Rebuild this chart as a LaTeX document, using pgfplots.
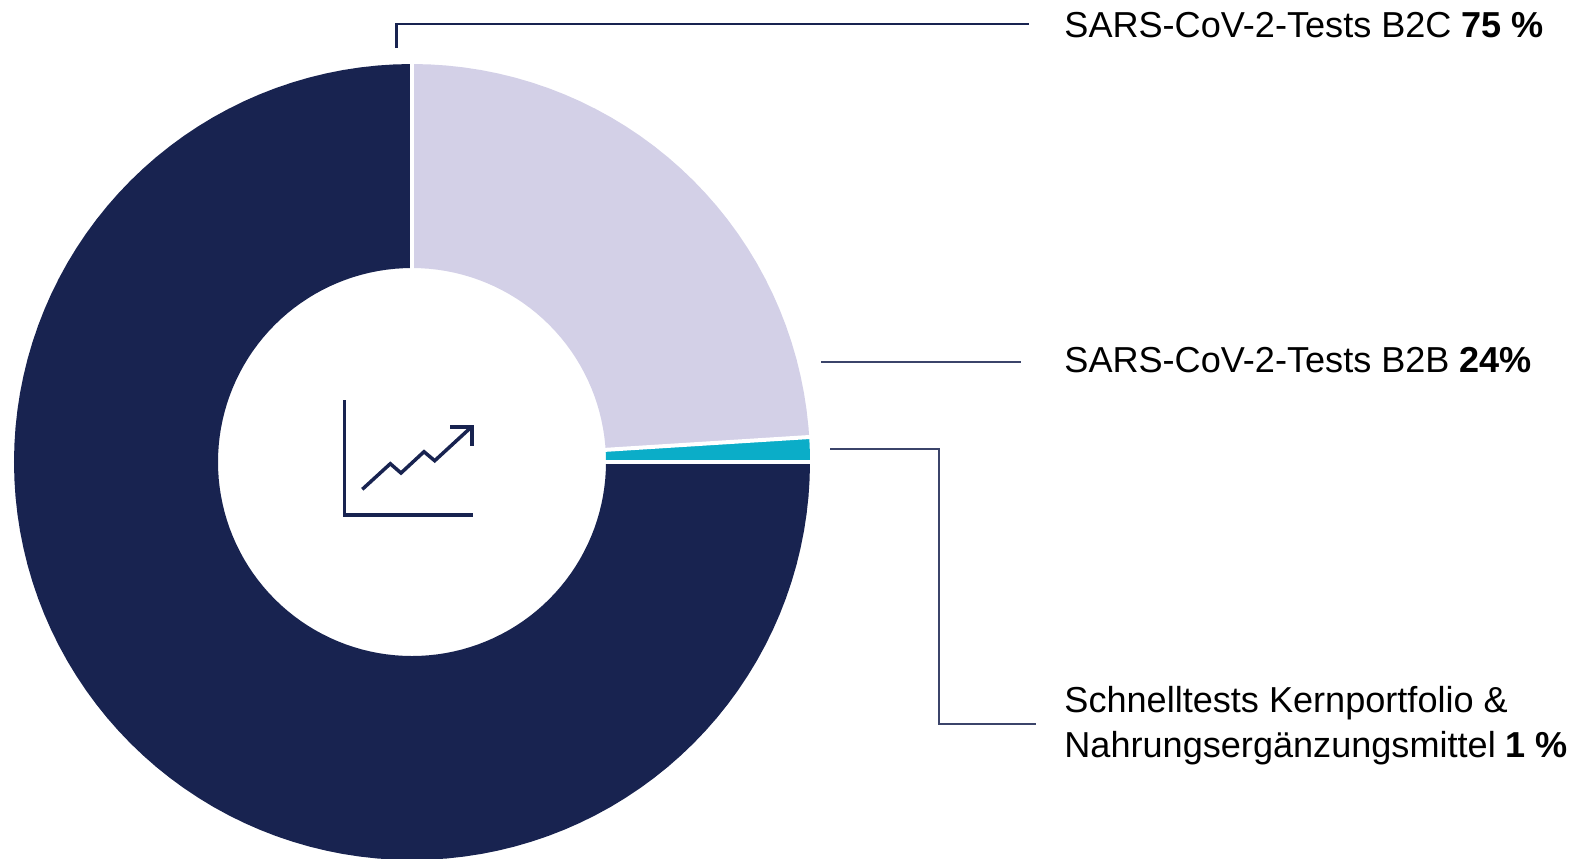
\documentclass[border=0pt]{standalone}
\usepackage{fontspec}
\setmainfont{Liberation Sans}
\usepackage{pgfplots}
\pgfplotsset{compat=1.18}
\usepgfplotslibrary{polar}
\definecolor{navy}{HTML}{182350}
\definecolor{lilac}{HTML}{D3D0E7}
\definecolor{teal2}{HTML}{0BADC8}
\begin{document}
\begin{tikzpicture}
\path[use as bounding box] (0,0) rectangle (786pt,-429pt);
\begin{axis}[at={(0,0)},anchor=north west,scale only axis,width=786pt,height=429pt,
  xmin=0,xmax=1572,ymin=0,ymax=858,y dir=reverse,hide axis,clip=false]
% leader lines
\addplot[navy,line width=1.25pt,line join=miter,no marks] coordinates {(396.5,48) (396.5,24) (1029,24)};
\addplot[navy!85,line width=0.6pt,no marks] coordinates {(821,362) (1021,362)};
\addplot[navy!85,line width=0.6pt,line join=miter,no marks] coordinates {(830,449) (939,449) (939,724) (1036,724)};
% icon
\addplot[navy,line width=1.75pt,line join=miter,no marks] coordinates {(344.7,400) (344.7,515) (473,515)};
\addplot[navy,line width=1.75pt,line join=miter,no marks] coordinates {(362.3,489.3) (390.3,463.7) (401,473) (424,451.7) (434.7,460.7) (471.7,426.7)};
\addplot[navy,line width=1.75pt,line join=miter,no marks] coordinates {(450,427) (472,427) (472,446)};
\node[anchor=base west,inner sep=0pt,font=\fontsize{18.05pt}{21pt}\selectfont] at (axis cs:1064,37) {SARS-CoV-2-Tests B2C \textbf{75 \%}};
\node[anchor=base west,inner sep=0pt,font=\fontsize{18.05pt}{21pt}\selectfont] at (axis cs:1064,372) {SARS-CoV-2-Tests B2B \textbf{24\%}};
\node[anchor=base west,inner sep=0pt,font=\fontsize{18.05pt}{21pt}\selectfont] at (axis cs:1064,712) {Schnelltests Kernportfolio \&};
\node[anchor=base west,inner sep=0pt,font=\fontsize{18.05pt}{21pt}\selectfont] at (axis cs:1064,757) {Nahrungsergänzungsmittel \textbf{1 \%}};
\end{axis}
\begin{polaraxis}[at={(206pt,-231pt)},anchor=center,scale only axis,width=400pt,height=400pt,
  xmin=0,xmax=360,ymin=0,ymax=400,hide axis,clip=false]
\addplot[fill=navy,draw=none,no marks] coordinates {
(90,398)(92.5,398)(95,398)(97.5,398)(100,398)(102.5,398)(105,398)(107.5,398)(110,398)(112.5,398)(115,398)(117.5,398)
(120,398)(122.5,398)(125,398)(127.5,398)(130,398)(132.5,398)(135,398)(137.5,398)(140,398)(142.5,398)(145,398)(147.5,398)
(150,398)(152.5,398)(155,398)(157.5,398)(160,398)(162.5,398)(165,398)(167.5,398)(170,398)(172.5,398)(175,398)(177.5,398)
(180,398)(182.5,398)(185,398)(187.5,398)(190,398)(192.5,398)(195,398)(197.5,398)(200,398)(202.5,398)(205,398)(207.5,398)
(210,398)(212.5,398)(215,398)(217.5,398)(220,398)(222.5,398)(225,398)(227.5,398)(230,398)(232.5,398)(235,398)(237.5,398)
(240,398)(242.5,398)(245,398)(247.5,398)(250,398)(252.5,398)(255,398)(257.5,398)(260,398)(262.5,398)(265,398)(267.5,398)
(270,398)(272.5,398)(275,398)(277.5,398)(280,398)(282.5,398)(285,398)(287.5,398)(290,398)(292.5,398)(295,398)(297.5,398)
(300,398)(302.5,398)(305,398)(307.5,398)(310,398)(312.5,398)(315,398)(317.5,398)(320,398)(322.5,398)(325,398)(327.5,398)
(330,398)(332.5,398)(335,398)(337.5,398)(340,398)(342.5,398)(345,398)(347.5,398)(350,398)(352.5,398)(355,398)(357.5,398)(360,398)
(360,194)(357.5,194)(355,194)(352.5,194)(350,194)(347.5,194)(345,194)(342.5,194)(340,194)(337.5,194)(335,194)(332.5,194)(330,194)
(327.5,194)(325,194)(322.5,194)(320,194)(317.5,194)(315,194)(312.5,194)(310,194)(307.5,194)(305,194)(302.5,194)(300,194)
(297.5,194)(295,194)(292.5,194)(290,194)(287.5,194)(285,194)(282.5,194)(280,194)(277.5,194)(275,194)(272.5,194)(270,194)
(267.5,194)(265,194)(262.5,194)(260,194)(257.5,194)(255,194)(252.5,194)(250,194)(247.5,194)(245,194)(242.5,194)(240,194)
(237.5,194)(235,194)(232.5,194)(230,194)(227.5,194)(225,194)(222.5,194)(220,194)(217.5,194)(215,194)(212.5,194)(210,194)
(207.5,194)(205,194)(202.5,194)(200,194)(197.5,194)(195,194)(192.5,194)(190,194)(187.5,194)(185,194)(182.5,194)(180,194)
(177.5,194)(175,194)(172.5,194)(170,194)(167.5,194)(165,194)(162.5,194)(160,194)(157.5,194)(155,194)(152.5,194)(150,194)
(147.5,194)(145,194)(142.5,194)(140,194)(137.5,194)(135,194)(132.5,194)(130,194)(127.5,194)(125,194)(122.5,194)(120,194)
(117.5,194)(115,194)(112.5,194)(110,194)(107.5,194)(105,194)(102.5,194)(100,194)(97.5,194)(95,194)(92.5,194)(90,194)
};
\addplot[fill=lilac,draw=none,no marks] coordinates {
(90,398)(87.5,398)(85,398)(82.5,398)(80,398)(77.5,398)(75,398)(72.5,398)(70,398)(67.5,398)(65,398)(62.5,398)
(60,398)(57.5,398)(55,398)(52.5,398)(50,398)(47.5,398)(45,398)(42.5,398)(40,398)(37.5,398)(35,398)(32.5,398)
(30,398)(27.5,398)(25,398)(22.5,398)(20,398)(17.5,398)(15,398)(12.5,398)(10,398)(7.5,398)(5,398)(3.6,398)
(3.6,194)(5,194)(7.5,194)(10,194)(12.5,194)(15,194)(17.5,194)(20,194)(22.5,194)(25,194)(27.5,194)(30,194)
(32.5,194)(35,194)(37.5,194)(40,194)(42.5,194)(45,194)(47.5,194)(50,194)(52.5,194)(55,194)(57.5,194)(60,194)
(62.5,194)(65,194)(67.5,194)(70,194)(72.5,194)(75,194)(77.5,194)(80,194)(82.5,194)(85,194)(87.5,194)(90,194)
};
\addplot[fill=teal2,draw=none,no marks] coordinates {
(3.6,398)(2.4,398)(1.2,398)(0,398)(0,194)(1.2,194)(2.4,194)(3.6,194)
};
% white separators between the slices
\addplot[white,line width=2pt,no marks] coordinates {(90,185)(90,402)};
\addplot[white,line width=2pt,no marks] coordinates {(0,185)(0,402)};
\addplot[white,line width=2pt,no marks] coordinates {(3.6,185)(3.6,402)};
\end{polaraxis}
\end{tikzpicture}
\end{document}
